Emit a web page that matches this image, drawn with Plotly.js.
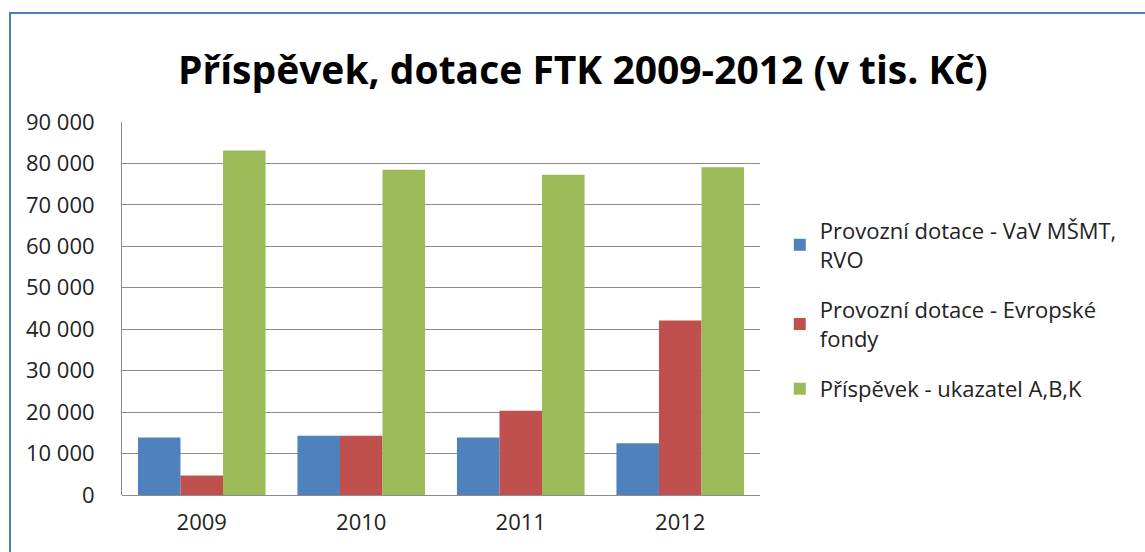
<!DOCTYPE html>
<html>
<head>
<meta charset="utf-8">
<script src="https://cdn.plot.ly/plotly-3.0.1.min.js"></script>
<style>
html,body{margin:0;padding:0;background:#fff;}
#chart{position:absolute;left:0;top:0;width:1145px;height:552px;}
#frame{position:absolute;left:9px;top:12px;width:1160px;height:600px;border:2px solid #4A7EBB;pointer-events:none;box-sizing:border-box;}
</style>
</head>
<body>
<div id="chart"></div>
<div id="frame"></div>
<script>
const years = ['2009', '2010', '2011', '2012'];
const seriesNames = [
  'Provozní dotace - VaV MŠMT,<br>RVO',
  'Provozní dotace - Evropské<br>fondy',
  'Příspěvek - ukazatel A,B,K'
];
const vavMsmt = [13900, 14300, 13900, 12500];
const evropskeFondy = [4700, 14300, 20300, 42100];
const prispevek = [83100, 78500, 77300, 79100];
const yTicks = [0, 10000, 20000, 30000, 40000, 50000, 60000, 70000, 80000, 90000];

const colors = ['#4F81BD', '#C0504D', '#9BBB59'];
const values = [vavMsmt, evropskeFondy, prispevek];

const traces = values.map((v, i) => ({
  type: 'bar',
  x: years,
  y: v,
  name: seriesNames[i],
  legendgroup: 'g' + i,
  marker: {color: colors[i], line: {width: 0}},
  hoverinfo: 'x+y'
}));

const font = 'Open Sans, Noto Sans, sans-serif';

const layout = {
  width: 1145,
  height: 552,
  paper_bgcolor: '#ffffff',
  plot_bgcolor: '#ffffff',
  separators: ', ',
  margin: {l: 122, r: 385, t: 122, b: 57},
  barmode: 'group',
  bargap: 0.2,
  bargroupgap: 0,
  title: {
    text: '<b>Příspěvek, dotace FTK 2009-2012 (v tis. Kč)</b>',
    font: {family: font, size: 39, color: '#000000'},
    x: 0.509,
    xanchor: 'center',
    y: 0.873,
    yanchor: 'middle',
    xref: 'container',
    yref: 'container'
  },
  xaxis: {
    type: 'category',
    showgrid: false,
    showline: false,
    ticks: '',
    tickfont: {family: font, size: 22, color: '#222222'},
    ticklabelstandoff: 12,
    zeroline: false
  },
  yaxis: {
    range: [0, 90000],
    tickvals: yTicks,
    tickformat: ',.0f',
    showgrid: true,
    gridcolor: '#8C8C8C',
    gridwidth: 1,
    showline: true,
    linecolor: '#8C8C8C',
    linewidth: 1,
    zeroline: true,
    zerolinecolor: '#8C8C8C',
    zerolinewidth: 1,
    ticks: '',
    ticklabelstandoff: 22,
    tickfont: {family: font, size: 22, color: '#222222'}
  },
  legend: {
    x: 1.031,
    xanchor: 'left',
    y: 0.765,
    yanchor: 'top',
    font: {family: font, size: 22, color: '#222222'},
    itemwidth: 30,
    tracegroupgap: 19,
    bgcolor: 'rgba(0,0,0,0)',
    traceorder: 'grouped'
  },
  showlegend: true
};

Plotly.newPlot('chart', traces, layout, {displayModeBar: false, staticPlot: true});
</script>
</body>
</html>
